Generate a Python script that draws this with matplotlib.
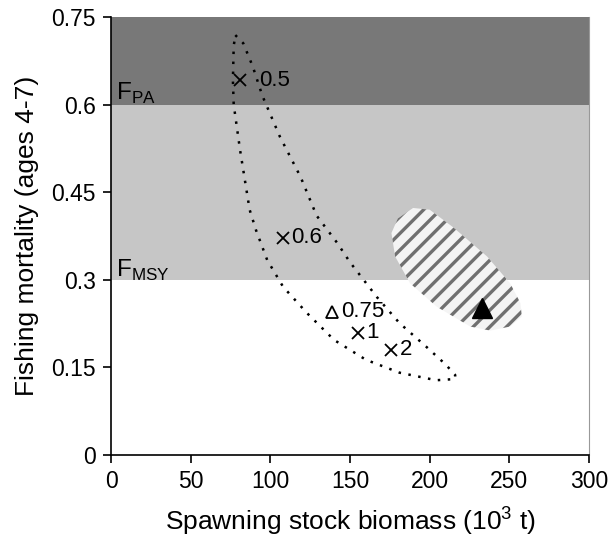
import matplotlib
matplotlib.use("Agg")
import matplotlib.pyplot as plt

plt.rcParams['font.family'] = ['Liberation Sans', 'DejaVu Sans']
plt.rcParams['hatch.linewidth'] = 2.4

# reference levels
f_pa = 0.6
f_msy = 0.3
y_top = 0.75

# dotted confidence contour (x: 10^3 t, y: F)
contour_x = [78, 83, 89, 95, 106, 119, 129, 142, 150, 167, 181, 198, 210, 216, 216,
	204, 181, 160, 140, 123, 108, 98, 91, 87, 84, 81, 77, 76.5, 77, 78]
contour_y = [0.719, 0.705, 0.665, 0.615, 0.545, 0.476, 0.41, 0.363, 0.33, 0.27, 0.226, 0.185, 0.155, 0.137, 0.13,
	0.128, 0.141, 0.163, 0.197, 0.243, 0.288, 0.334, 0.385, 0.42, 0.471, 0.522, 0.6, 0.642, 0.70, 0.719]

# hatched region
region_x = [176, 180, 189.6, 200, 214.7, 236, 250.5, 257, 257.8, 250.5, 238, 225.4, 204.4, 187.7, 178.3]
region_y = [0.38, 0.405, 0.423, 0.42, 0.39, 0.34, 0.294, 0.26, 0.237, 0.22, 0.213, 0.22, 0.254, 0.294, 0.34]

# labelled points
cross_x = [81, 108, 155, 176]
cross_y = [0.642, 0.372, 0.209, 0.18]
cross_labels = ["0.5", "0.6", "1", "2"]
open_tri_x = [139]
open_tri_y = [0.245]
open_tri_labels = ["0.75"]
current_x = [232.6]
current_y = [0.251]

x_ticks = [0, 50, 100, 150, 200, 250, 300]
y_ticks = [0, 0.15, 0.3, 0.45, 0.6, 0.75]
y_tick_labels = ["0", "0.15", "0.3", "0.45", "0.6", "0.75"]


def main():
	fig = plt.figure(figsize=(6.11, 5.41), dpi=100)
	ax = fig.add_axes([0.1817, 0.159, 0.7823, 0.8096])

	ax.axhspan(f_pa, y_top, color="#787878", lw=0, zorder=0)
	ax.axhspan(f_msy, f_pa, color="#c6c6c6", lw=0, zorder=0)

	ax.fill(region_x, region_y, facecolor="#f4f4f4", edgecolor="#707070",
		hatch="//", linewidth=0, zorder=1)

	ax.plot(contour_x, contour_y, color="black", lw=1.8, linestyle=(0, (1, 3)), zorder=2)

	# label gaps in points, one per label
	cross_gaps = [14, 6, 6, 6]
	ax.plot(cross_x, cross_y, "x", color="black", ms=9, mew=1.3, zorder=3)
	for x, y, s, g in zip(cross_x, cross_y, cross_labels, cross_gaps):
		ax.annotate(s, (x, y), xytext=(g, 0), textcoords="offset points",
			fontsize=16, va="center", ha="left", zorder=4)
	ax.plot(open_tri_x, open_tri_y, "^", mfc="none", mec="black", ms=8, mew=1.3, zorder=3)
	for x, y, s in zip(open_tri_x, open_tri_y, open_tri_labels):
		ax.annotate(s, (x, y), xytext=(6, 0), textcoords="offset points",
			fontsize=16, va="center", ha="left", zorder=4)
	ax.plot(current_x, current_y, "^", color="black", ms=15, zorder=3)

	ax.text(3, 0.608, r"F$_\mathregular{PA}$", fontsize=17.5, zorder=4)
	ax.text(3, 0.305, r"F$_\mathregular{MSY}$", fontsize=17.5, zorder=4)

	ax.set_xlim(0, 300)
	ax.set_ylim(0, y_top)
	ax.set_xticks(x_ticks)
	ax.set_yticks(y_ticks)
	ax.set_yticklabels(y_tick_labels)
	ax.tick_params(direction="out", length=6, width=1.2, labelsize=16.5, pad=5)

	ax.spines["top"].set_visible(False)
	ax.spines["right"].set_color("#999999")
	ax.spines["right"].set_linewidth(0.8)
	ax.spines["left"].set_linewidth(1.2)
	ax.spines["bottom"].set_linewidth(1.2)

	ax.set_xlabel(r"Spawning stock biomass (10$^\mathregular{3}$ t)", fontsize=19, labelpad=8)
	ax.set_ylabel("Fishing mortality (ages 4-7)", fontsize=19, labelpad=9)

	plt.savefig("out.png", dpi=100)


if __name__ == '__main__':
	main()
